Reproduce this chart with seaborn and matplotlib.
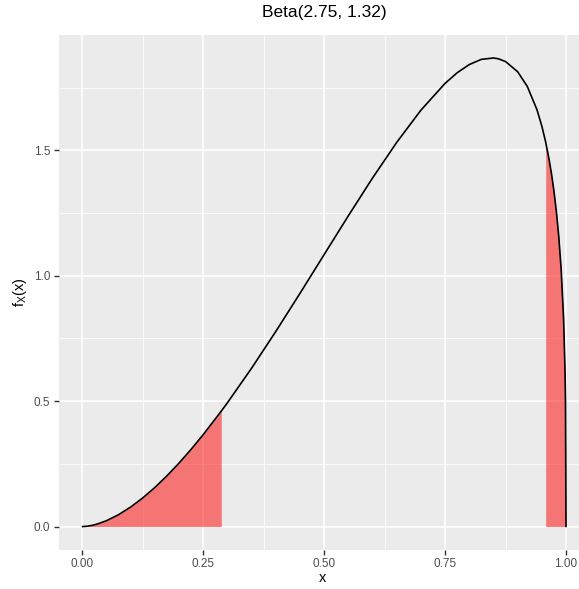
import matplotlib
matplotlib.use("Agg")
import matplotlib.pyplot as plt
import seaborn as sns
import numpy as np
import pandas as pd

# Values (density of Beta(2.75, 1.32))
x_vals = [0.0, 0.01, 0.02, 0.03, 0.05, 0.075, 0.1, 0.125, 0.15, 0.175, 0.2,
          0.225, 0.25, 0.287, 0.3, 0.35, 0.4, 0.45, 0.5, 0.55, 0.6, 0.65,
          0.7, 0.75, 0.775, 0.8, 0.825, 0.85, 0.86, 0.875, 0.9, 0.92, 0.94,
          0.95, 0.958, 0.965, 0.97, 0.975, 0.98, 0.985, 0.99, 0.995, 0.998,
          0.999, 1.0]
density_vals = [0.0, 0.00144, 0.00482, 0.00976, 0.0237, 0.0478, 0.0783, 0.1147,
                0.1564, 0.2029, 0.2538, 0.3087, 0.3673, 0.4602, 0.4943, 0.6322,
                0.7785, 0.9304, 1.0851, 1.2396, 1.3901, 1.5322, 1.6604, 1.7673,
                1.8096, 1.8422, 1.8629, 1.8683, 1.8653, 1.8541, 1.8136, 1.7548,
                1.6619, 1.5970, 1.5327, 1.4643, 1.4065, 1.3388, 1.2577, 1.1574,
                1.0256, 0.8288, 0.6215, 0.4987, 0.0]
lower_cut = 0.287
upper_cut = 0.958
title_text = "Beta(2.75, 1.32)"
x_ticks = [0.0, 0.25, 0.5, 0.75, 1.0]
x_ticklabels = ["0.00", "0.25", "0.50", "0.75", "1.00"]
y_ticks = [0.0, 0.5, 1.0, 1.5]
y_ticklabels = ["0.0", "0.5", "1.0", "1.5"]

df = pd.DataFrame({"x": x_vals, "density": density_vals})

sns.set_theme(style="darkgrid")
plt.rcParams["font.family"] = ["Liberation Sans", "DejaVu Sans"]
plt.rcParams["mathtext.fontset"] = "custom"
plt.rcParams["mathtext.rm"] = "Liberation Sans"
plt.rcParams["mathtext.it"] = "Liberation Sans:italic"

W, H = 579, 589
fig = plt.figure(figsize=(W / 100, H / 100), dpi=100)
fig.patch.set_facecolor("white")
left_px, right_px, top_px, bottom_px = 58.5, 579, 34.5, 550
ax = fig.add_axes([left_px / W, (H - bottom_px) / H,
                   (right_px - left_px) / W, (bottom_px - top_px) / H])
ax.set_facecolor("#EBEBEB")

xa = np.array(x_vals)
ya = np.array(density_vals)
ax.fill_between(xa, 0, ya, where=xa <= lower_cut + 1e-9, color="red",
                alpha=0.5, linewidth=0, zorder=2)
ax.fill_between(xa, 0, ya, where=xa >= upper_cut - 1e-9, color="red",
                alpha=0.5, linewidth=0, zorder=2)
sns.lineplot(data=df, x="x", y="density", ax=ax, color="black",
             linewidth=1.2, zorder=3)

ax.set_xlim(-0.0496, 1.0269)
ax.set_ylim(-0.0934, 1.962)

ax.set_xticks(x_ticks)
ax.set_xticklabels(x_ticklabels)
ax.set_yticks(y_ticks)
ax.set_yticklabels(y_ticklabels)
ax.set_xticks([0.125, 0.375, 0.625, 0.875], minor=True)
ax.set_yticks([0.25, 0.75, 1.25, 1.75], minor=True)
ax.grid(which="major", color="white", linewidth=1.1, zorder=0)
ax.grid(which="minor", color="white", linewidth=0.55, zorder=0)
ax.set_axisbelow(True)
for s in ax.spines.values():
    s.set_visible(False)
ax.tick_params(which="major", length=3.5, width=1.0, color="#333333",
               labelcolor="#4D4D4D", labelsize=8.5, pad=2.5,
               bottom=True, left=True)
ax.tick_params(which="minor", length=0, bottom=False, left=False)

ax.set_xlabel("")
ax.set_ylabel("")
fig.text(324 / W, 1 - 13 / H, title_text, ha="center", va="center",
         fontsize=12.5, color="black")
fig.text(323 / W, 1 - 578 / H, "x", ha="center", va="center",
         fontsize=10.5, color="black")
fig.text(20 / W, 1 - 292 / H, r"$\mathrm{f}_{\mathrm{X}}\mathrm{(x)}$",
         ha="center", va="center", rotation=90, fontsize=10.5, color="black")

fig.savefig("out.png", dpi=100, facecolor="white")
